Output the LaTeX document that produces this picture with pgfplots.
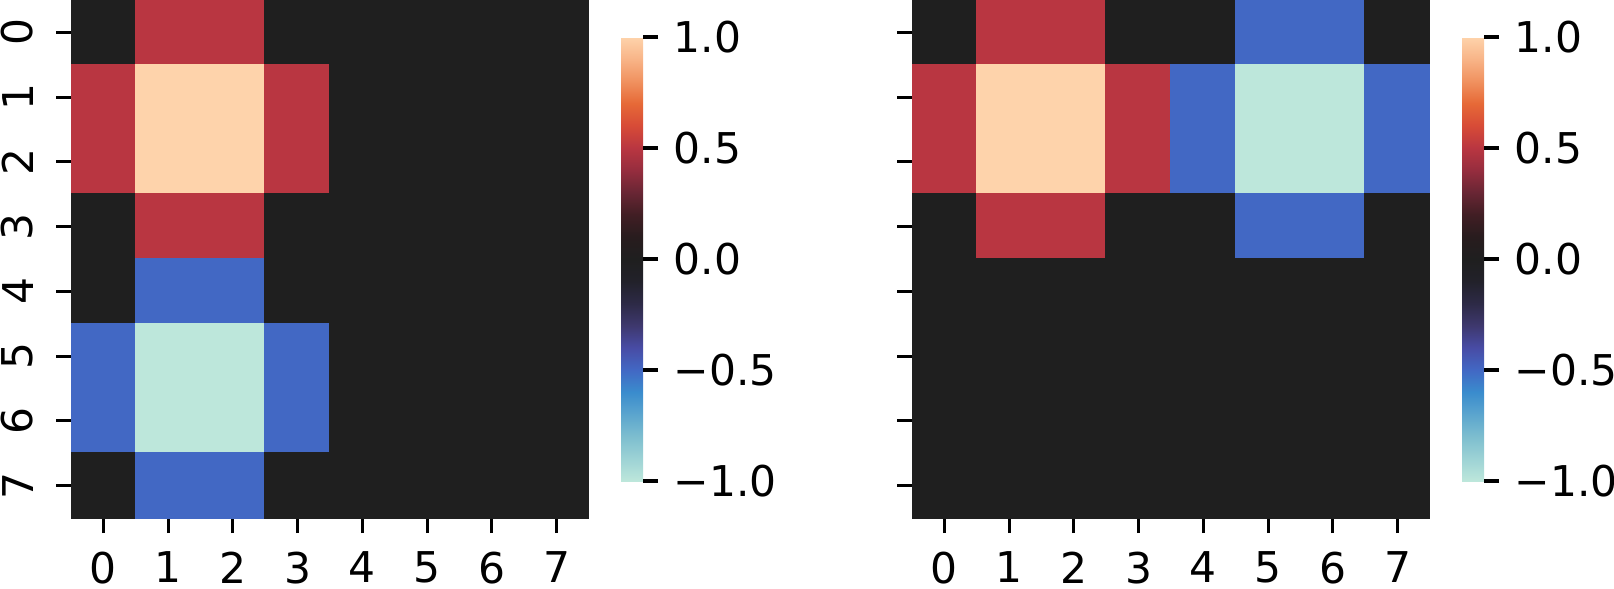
\documentclass[border=0pt]{standalone}
\usepackage{fontspec}
\setmainfont{DejaVu Sans}
\usepackage{pgfplots}
\pgfplotsset{compat=1.18}

% seaborn "icefire", -1 .. 1 mapped to 0 .. 20
\pgfplotsset{
  colormap={icefire}{
    rgb255(0cm)=(189,231,219); rgb255(2cm)=(125,190,207);
    rgb255(4cm)=(58,140,205);  rgb255(5cm)=(66,104,196);
    rgb255(6cm)=(72,76,165);   rgb255(7cm)=(62,56,110);
    rgb255(8cm)=(45,42,70);    rgb255(9cm)=(34,33,42);
    rgb255(10cm)=(31,31,31);   rgb255(11cm)=(40,28,30);
    rgb255(12cm)=(65,30,36);   rgb255(13cm)=(105,38,52);
    rgb255(14cm)=(150,45,62);  rgb255(15cm)=(185,54,65);
    rgb255(16cm)=(215,75,55);  rgb255(17cm)=(230,105,55);
    rgb255(18cm)=(240,145,95); rgb255(19cm)=(248,180,135);
    rgb255(20cm)=(254,211,171)
  },
  heat/.style={
    scale only axis, width=129.5pt, height=129.5pt,
    xmin=-0.5, xmax=7.5, ymin=-0.5, ymax=7.5, y dir=reverse,
    enlargelimits=false, axis line style={draw=none},
    xtick={0,1,2,3,4,5,6,7}, ytick={0,1,2,3,4,5,6,7},
    xticklabels={0,1,2,3,4,5,6,7},
    xtick pos=bottom, ytick pos=left, tick align=outside,
    major tick length=3.75pt, tick style={black, line width=0.8pt},
    tick label style={font=\fontsize{10.6}{12.7}\selectfont},
    xticklabel style={anchor=north, inner sep=0pt, yshift=-4.5pt},
    point meta min=-1, point meta max=1,
    colorbar,
    colorbar style={
      scale only axis, width=5.5pt, height=111pt,
      at={(parent axis.east)}, anchor=west, xshift=-0.5pt,
      axis line style={draw=none},
      ytick={-1,-0.5,0,0.5,1},
      yticklabels={−1.0,−0.5,0.0,0.5,1.0},
      ytick pos=right, tick align=outside,
      major tick length=3.75pt, tick style={black, line width=0.8pt},
      tick label style={font=\fontsize{10.6}{12.7}\selectfont},
      yticklabel style={anchor=west, inner sep=0pt, xshift=3.75pt},
    },
  },
}

\pgfplotstableread{
x y c
0 0 0
1 0 0.5
2 0 0.5
3 0 0
4 0 0
5 0 0
6 0 0
7 0 0
0 1 0.5
1 1 1
2 1 1
3 1 0.5
4 1 0
5 1 0
6 1 0
7 1 0
0 2 0.5
1 2 1
2 2 1
3 2 0.5
4 2 0
5 2 0
6 2 0
7 2 0
0 3 0
1 3 0.5
2 3 0.5
3 3 0
4 3 0
5 3 0
6 3 0
7 3 0
0 4 0
1 4 -0.5
2 4 -0.5
3 4 0
4 4 0
5 4 0
6 4 0
7 4 0
0 5 -0.5
1 5 -1
2 5 -1
3 5 -0.5
4 5 0
5 5 0
6 5 0
7 5 0
0 6 -0.5
1 6 -1
2 6 -1
3 6 -0.5
4 6 0
5 6 0
6 6 0
7 6 0
0 7 0
1 7 -0.5
2 7 -0.5
3 7 0
4 7 0
5 7 0
6 7 0
7 7 0
}\leftdata

\pgfplotstableread{
x y c
0 0 0
1 0 0.5
2 0 0.5
3 0 0
4 0 0
5 0 -0.5
6 0 -0.5
7 0 0
0 1 0.5
1 1 1
2 1 1
3 1 0.5
4 1 -0.5
5 1 -1
6 1 -1
7 1 -0.5
0 2 0.5
1 2 1
2 2 1
3 2 0.5
4 2 -0.5
5 2 -1
6 2 -1
7 2 -0.5
0 3 0
1 3 0.5
2 3 0.5
3 3 0
4 3 0
5 3 -0.5
6 3 -0.5
7 3 0
0 4 0
1 4 0
2 4 0
3 4 0
4 4 0
5 4 0
6 4 0
7 4 0
0 5 0
1 5 0
2 5 0
3 5 0
4 5 0
5 5 0
6 5 0
7 5 0
0 6 0
1 6 0
2 6 0
3 6 0
4 6 0
5 6 0
6 6 0
7 6 0
0 7 0
1 7 0
2 7 0
3 7 0
4 7 0
5 7 0
6 7 0
7 7 0
}\rightdata

\begin{document}
\begin{tikzpicture}
\begin{axis}[heat, at={(0,0)}, anchor=south west,
  yticklabels={0,1,2,3,4,5,6,7},
  yticklabel style={xshift=-5.5pt, rotate=90, anchor=south, inner sep=0pt},
]
\addplot[matrix plot*, mesh/cols=8, mesh/rows=8, point meta=explicit]
  table[x=x, y=y, meta=c] {\leftdata};
\end{axis}

\begin{axis}[heat, at={(210.25pt,0)}, anchor=south west,
  yticklabels={},
]
\addplot[matrix plot*, mesh/cols=8, mesh/rows=8, point meta=explicit]
  table[x=x, y=y, meta=c] {\rightdata};
\end{axis}

\pgfresetboundingbox
\path[use as bounding box] (-17.75pt,-17.5pt) rectangle (385.75pt,129.5pt);
\end{tikzpicture}
\end{document}
